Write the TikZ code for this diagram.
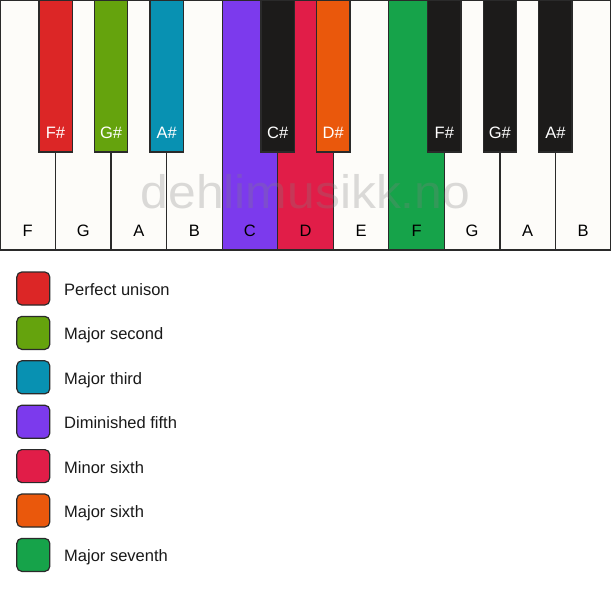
\documentclass[tikz,border=0pt]{standalone}
\usepackage{fontspec}
\setmainfont{Liberation Sans}
\definecolor{keywhite}{HTML}{FDFCF9}
\definecolor{keyblack}{HTML}{1C1B1A}
\definecolor{keyline}{HTML}{2A2A2A}
\definecolor{cred}{HTML}{DC2626}
\definecolor{clime}{HTML}{65A30D}
\definecolor{ccyan}{HTML}{0891B2}
\definecolor{cviolet}{HTML}{7C3AED}
\definecolor{crose}{HTML}{E11D48}
\definecolor{corange}{HTML}{EA580C}
\definecolor{cgreen}{HTML}{16A34A}
\tikzset{
  whitekey/.style={draw=keyline, line width=1.3pt, minimum width=55.545pt, minimum height=250pt, inner sep=0pt, outer sep=0pt},
  blackkey/.style={draw=keyline, line width=1.3pt, minimum width=33.3pt, minimum height=152pt, inner sep=0pt, outer sep=0pt},
  wlabel/.style={anchor=base, inner sep=0pt, text=black, font=\fontsize{16.5}{18}\selectfont},
  blabel/.style={anchor=base, inner sep=0pt, text=white, font=\fontsize{16.5}{18}\selectfont},
  swatch/.style={draw=keyline, line width=1.2pt, rounded corners=5pt, minimum width=33pt, minimum height=33pt, inner sep=0pt},
  legtext/.style={anchor=base west, inner sep=0pt, text=black!90, font=\fontsize{16.5}{18}\selectfont},
  watermark/.style={anchor=base, inner sep=0pt, text=black!50, text opacity=0.28, font=\fontsize{47}{50}\selectfont, xscale=1.06}
}
\begin{document}
\begin{tikzpicture}[x=1pt,y=-1pt]
\useasboundingbox[fill=white] (0,0) rectangle (611,594);
% white keys
\foreach \i/\n/\c in {0/F/keywhite,1/G/keywhite,2/A/keywhite,3/B/keywhite,4/C/cviolet,5/D/crose,6/E/keywhite,7/F/cgreen,8/G/keywhite,9/A/keywhite,10/B/keywhite}{
  \node[whitekey, fill=\c] (w\i) at ({(\i+0.5)*55.545},125) {};
  \node[wlabel] (wl\i) at ({(\i+0.5)*55.545},236) {\n};
}
% black keys
\foreach \i/\n/\c in {1/F\#/cred,2/G\#/clime,3/A\#/ccyan,5/C\#/keyblack,6/D\#/corange,8/F\#/keyblack,9/G\#/keyblack,10/A\#/keyblack}{
  \node[blackkey, fill=\c] (b\i) at ({\i*55.545},76) {};
  \node[blabel] (bl\i) at ({\i*55.545},139) {\n};
}
% watermark
\node[watermark] (wm) at (305.5,208) {dehlimusikk.no};
% legend
\foreach \k/\c/\t in {0/cred/Perfect unison,1/clime/Major second,2/ccyan/Major third,3/cviolet/Diminished fifth,4/crose/Minor sixth,5/corange/Major sixth,6/cgreen/Major seventh}{
  \node[swatch, fill=\c] (s\k) at (33.3,{288.5+44.4*\k}) {};
  \node[legtext] (t\k) at (64,{295.5+44.4*\k}) {\t};
}
\end{tikzpicture}
\end{document}
